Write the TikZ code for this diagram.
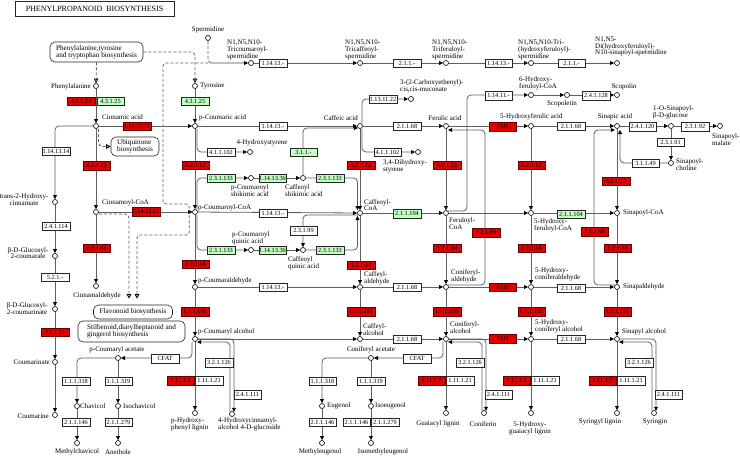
\documentclass[tikz,border=0pt]{standalone}
\usepackage{fontspec}
\setmainfont{Liberation Serif}
\usetikzlibrary{arrows.meta,calc,backgrounds}
\definecolor{kred}{RGB}{225,0,0}
\definecolor{kgrn}{RGB}{191,255,191}
\definecolor{kline}{RGB}{95,95,95}
\begin{document}
\begin{tikzpicture}[x=1pt,y=-1pt,
 cpd/.style={circle,draw=black,fill=white,line width=0.6pt,inner sep=0pt,minimum size=5pt},
 ez/.style={draw=black!85,fill=white,line width=0.5pt,minimum width=27.5pt,minimum height=8.5pt,inner sep=0pt,font=\fontsize{6.3}{6.3}\selectfont},
 ezr/.style={ez,fill=kred,draw=black!60!red},
 ezg/.style={ez,fill=kgrn},
 lb/.style={inner sep=0pt,font=\fontsize{7}{6.8}\selectfont,align=left},
 lbc/.style={lb,align=center},
 mapbox/.style={draw=black!85,rounded corners=5pt,fill=white,line width=0.6pt,inner sep=1.5pt,font=\fontsize{7.2}{7.2}\selectfont,align=left},
 ln/.style={draw=kline,line width=0.8pt},
 ar/.style={ln,-{Triangle[length=4.2pt,width=3.8pt,color=black]}},
 dl/.style={ln,dash pattern=on 3pt off 2pt},
 dar/.style={dl,-{Triangle[open,length=4.5pt,width=4.5pt,color=black,fill=white]}},
 dfar/.style={dl,-{Triangle[length=4.2pt,width=3.8pt,color=black]}},
 rc/.style={rounded corners=4pt}]
\useasboundingbox (0,0) rectangle (740,456);

% ---------- compounds ----------
\node[cpd] (phe) at (96,86) {};
\node[cpd] (cin) at (96,126) {};
\node[cpd] (cinCoA) at (96,212) {};
\node[cpd] (cinald) at (96,286) {};
\node[cpd] (tho) at (55,202) {};
\node[cpd] (gca) at (55,256) {};
\node[cpd] (gcn) at (55,309) {};
\node[cpd] (cmt) at (55,362) {};
\node[cpd] (cmr) at (55,415) {};
\node[cpd] (tyr) at (195,86) {};
\node[cpd] (pca) at (195,126) {};
\node[cpd] (hst) at (250,152) {};
\node[cpd] (pcoa) at (195,212) {};
\node[cpd] (pcs) at (251,178) {};
\node[cpd] (cfs) at (303,178) {};
\node[cpd] (pcq) at (251,250) {};
\node[cpd] (cfq) at (303,250) {};
\node[cpd] (pcald) at (195,287) {};
\node[cpd] (pcalc) at (195,339) {};
\node[cpd] (pcac) at (118,358) {};
\node[cpd] (chv) at (77,406) {};
\node[cpd] (mchv) at (77,443) {};
\node[cpd] (ichv) at (118,406) {};
\node[cpd] (anet) at (118,443) {};
\node[cpd] (phl) at (195,413) {};
\node[cpd] (hcg) at (232,414) {};
\node[cpd] (caf) at (360,126) {};
\node[cpd] (ccm) at (411,99) {};
\node[cpd] (dhs) at (418,152) {};
\node[cpd] (cafCoA) at (360,213) {};
\node[cpd] (cafald) at (360,287) {};
\node[cpd] (cafalc) at (360,339) {};
\node[cpd] (cfac) at (371,358) {};
\node[cpd] (eug) at (322,406) {};
\node[cpd] (meug) at (322,443) {};
\node[cpd] (ieug) at (371,406) {};
\node[cpd] (imeug) at (371,443) {};
\node[cpd] (fer) at (446,126) {};
\node[cpd] (ferCoA) at (446,213) {};
\node[cpd] (conald) at (446,287) {};
\node[cpd] (conalc) at (446,339) {};
\node[cpd] (gl) at (446,413) {};
\node[cpd] (conf) at (484,413) {};
\node[cpd] (hfc6) at (531,95) {};
\node[cpd] (scpt) at (567,95) {};
\node[cpd] (scpn) at (617,95) {};
\node[cpd] (hfer) at (531,126) {};
\node[cpd] (hferCoA) at (531,213) {};
\node[cpd] (hconald) at (531,287) {};
\node[cpd] (hconalc) at (531,339) {};
\node[cpd] (hgl) at (531,413) {};
\node[cpd] (sin) at (617,126) {};
\node[cpd] (sgl) at (671,126) {};
\node[cpd] (smal) at (720,126) {};
\node[cpd] (schol) at (671,163) {};
\node[cpd] (sinCoA) at (617,213) {};
\node[cpd] (sinald) at (617,287) {};
\node[cpd] (sinalc) at (617,339) {};
\node[cpd] (sl) at (617,413) {};
\node[cpd] (syr) at (654,413) {};
\node[cpd] (spd) at (208,38) {};
\node[cpd] (tcs) at (251,63) {};
\node[cpd] (tcfs) at (360,63) {};
\node[cpd] (tfs) at (446,63) {};
\node[cpd] (thfs) at (531,63) {};
\node[cpd] (dhsp) at (617,63) {};

% ---------- title and maps ----------
\node[draw=black!85,line width=0.6pt,minimum width=159pt,minimum height=15pt,inner sep=0pt,font=\fontsize{8}{8}\selectfont] (title) at (94.5,8.5) {PHENYLPROPANOID\ \ BIOSYNTHESIS};
\node[mapbox,minimum width=93pt,minimum height=20pt] (pttb) at (96.5,52) {Phenylalanine,tyrosine\\and tryptophan biosynthesis};
\node[mapbox,minimum width=48pt,minimum height=19pt] (ubq) at (135,146.5) {Ubiquinone\\biosynthesis};
\node[mapbox,minimum width=79pt,minimum height=14pt] (flav) at (133,312) {Flavonoid biosynthesis};
\node[mapbox,minimum width=107pt,minimum height=21pt] (stil) at (131.5,331.5) {Stilbenoid,diarylheptanoid and\\gingerol biosynthesis};

% ---------- labels ----------
\node[lb,anchor=east] (Lphe) at (91,87) {Phenylalanine};
\node[lb,anchor=west] (Lcin) at (102,117.5) {Cinnamic acid};
\node[lb,anchor=west] (LcinCoA) at (102,203) {Cinnamoyl-CoA};
\node[lb] (Lcinald) at (97,296) {Cinnamaldehyde};
\node[lbc] (Ltho) at (24,200) {trans-2-Hydroxy-\\cinnamate};
\node[lbc] (Lgca) at (28,253) {β-D-Glucosyl-\\2-coumarate};
\node[lbc] (Lgcn) at (27,308.5) {β-D-Glucosyl-\\2-coumarinate};
\node[lb,anchor=east] (Lcmt) at (50,362) {Coumarinate};
\node[lb,anchor=east] (Lcmr) at (49,416) {Coumarine};
\node[lb,anchor=west] (Ltyr) at (200,86) {Tyrosine};
\node[lb,anchor=west] (Lpca) at (199,118) {p-Coumaric acid};
\node[lb] (Lhst) at (262,143) {4-Hydroxystyrene};
\node[lb,anchor=west] (Lpcs) at (231,190.5) {p-Coumaroyl\\shikimic acid};
\node[lb,anchor=west] (Lcfs) at (285,190.5) {Caffeoyl\\shikimic acid};
\node[lb,anchor=west] (Lpcoa) at (198,207.5) {p-Coumaroyl-CoA};
\node[lb,anchor=west] (Lpcq) at (232,238) {p-Coumaroyl\\quinic acid};
\node[lb,anchor=west] (Lcfq) at (288,263.5) {Caffeoyl\\quinic acid};
\node[lb,anchor=west] (Lpcald) at (198,281) {p-Coumaraldehyde};
\node[lb,anchor=west] (Lpcalc) at (198,332) {p-Coumaryl alcohol};
\node[lb] (Lpcac) at (117,350) {p-Coumaryl acetate};
\node[lb,anchor=west] (Lchv) at (80,406) {Chavicol};
\node[lb,anchor=west] (Lichv) at (123,406) {Isochavicol};
\node[lb] (Lmchv) at (77,452) {Methylchavicol};
\node[lb] (Lanet) at (118,452) {Anethole};
\node[lb,anchor=west] (Lphl) at (171,424.5) {p-Hydroxy-\\phenyl lignin};
\node[lb,anchor=west] (Lhcg) at (218,424.5) {4-Hydroxycinnamyl-\\alcohol 4-D-glucoside};
\node[lb,anchor=east] (Lcaf) at (358,118) {Caffeic acid};
\node[lb,anchor=west] (Lccm) at (400,86) {3-(2-Carboxyethenyl)-\\cis,cis-muconate};
\node[lb,anchor=west] (Ldhs) at (383,166) {3,4-Dihydroxy-\\styrene};
\node[lb,anchor=west] (LcafCoA) at (364,205) {Caffeoyl-\\CoA};
\node[lb,anchor=west] (Lcafald) at (364,278) {Caffeyl-\\aldehyde};
\node[lb,anchor=west] (Lcafalc) at (363,329.5) {Caffeyl-\\alcohol};
\node[lb] (Lcfac) at (371,350) {Coniferyl acetate};
\node[lb,anchor=west] (Leug) at (327,406) {Eugenol};
\node[lb,anchor=west] (Lieug) at (375,406) {Isoeugenol};
\node[lb] (Lmeug) at (320,452) {Methyleugenol};
\node[lb] (Limeug) at (383,452) {Isomethyleugenol};
\node[lb] (Lfer) at (445,118) {Ferulic acid};
\node[lb,anchor=west] (LferCoA) at (449,223.5) {Feruloyl-\\CoA};
\node[lb,anchor=west] (Lconald) at (451,276.5) {Coniferyl-\\aldehyde};
\node[lb,anchor=west] (Lconalc) at (450,327.5) {Coniferyl-\\alcohol};
\node[lb] (Lgl) at (438,424) {Guaiacyl lignin};
\node[lb] (Lconf) at (483,424) {Coniferin};
\node[lb,anchor=west] (Lhfc6) at (519,83) {6-Hydroxy-\\feruloyl-CoA};
\node[lb] (Lscpt) at (562,104) {Scopoletin};
\node[lb] (Lscpn) at (624,87) {Scopolin};
\node[lb,anchor=west] (Lhfer) at (500,116.5) {5-Hydroxyferulic acid};
\node[lb,anchor=west] (LhferCoA) at (534,225.5) {5-Hydroxy-\\feruloyl-CoA};
\node[lb,anchor=west] (Lhconald) at (535,274.5) {5-Hydroxy-\\coniferaldehyde};
\node[lb,anchor=west] (Lhconalc) at (535,326.5) {5-Hydroxy-\\coniferyl alcohol};
\node[lbc] (Lhgl) at (530,428.5) {5-Hydroxy-\\guaiacyl lignin};
\node[lb] (Lsin) at (615,117) {Sinapic acid};
\node[lb,anchor=west] (Lsgl) at (653,112.5) {1-O-Sinapoyl-\\β-D-glucose};
\node[lb,anchor=west] (Lsmal) at (712,140) {Sinapoyl-\\malate};
\node[lb,anchor=west] (Lschol) at (676,164.5) {Sinapoyl-\\choline};
\node[lb,anchor=west] (LsinCoA) at (623,213) {Sinapoyl-CoA};
\node[lb,anchor=west] (Lsinald) at (623,287) {Sinapaldehyde};
\node[lb,anchor=west] (Lsinalc) at (622,332) {Sinapyl alcohol};
\node[lb] (Lsl) at (600,422) {Syringyl lignin};
\node[lb] (Lsyr) at (655,422) {Syringin};
\node[lb] (Lspd) at (208,30) {Spermidine};
\node[lb,anchor=west] (Ltcs) at (227,50) {N1,N5,N10-\\Tricoumaroyl-\\spermidine};
\node[lb,anchor=west] (Ltcfs) at (345,50) {N1,N5,N10-\\Tricaffeoyl-\\spermidine};
\node[lb,anchor=west] (Ltfs) at (432,50) {N1,N5,N10-\\Triferuloyl-\\spermidine};
\node[lb,anchor=west] (Lthfs) at (518,50) {N1,N5,N10-Tri-\\(hydroxyferuloyl)-\\spermidine};
\node[lb,anchor=west] (Ldhsp) at (595,46.5) {N1,N5-\\Di(hydroxyferuloyl)-\\N10-sinapoyl-spermidine};

% ---------- connectors (under everything) ----------
\begin{scope}[on background layer]
\fill[white] (0,0) rectangle (740,456);
% dashed map links
\draw[dar] (pttb.south) -- (phe);
\draw[dar,rc] (pttb.east) -| (tyr);
\draw[dar,rc] ($(cin.south)+(2.5,0)$) |- (ubq.west);
\draw[dl,rc] (spd) |- (tcs);
\draw[dfar,rounded corners=3pt] (pcoa.west) -- ++(-3,0) |- (163,204) |- (tcs);
\draw[dar,rounded corners=3pt] (pcoa.west) -- ++(-3,0) |- (137,235) -- ($(flav.north)+(4,-6)$);
\draw[dar,rc] ($(cinCoA.east)+(0,2)$) -| ($(flav.north)+(-4,-6)$);
% spermidine row
\draw[ar] (tcs) -- (tcfs);
\draw[ar] (tcfs) -- (tfs);
\draw[ar] (tfs) -- (thfs);
\draw[ar] (thfs) -- (dhsp);
% column A and coumarins
\draw[ar] (phe) -- (cin);
\draw[ar] (cin) -- (pca);
\draw[ar,rc] (cin) -| (tho);
\draw[ar] (tho) -- (gca);
\draw[ar] (gca) -- (gcn);
\draw[ar] (gcn) -- (cmt);
\draw[ar] (cmt) -- (cmr);
\draw[ar] (cin) -- (cinCoA);
\draw[ar] (cinCoA) -- (pcoa);
\draw[ar] (cinCoA) -- (cinald);
% column B
\draw[ar] (tyr) -- (pca);
\draw[ar] (pca) -- (pcoa);
\draw[ar] (pca) -- (caf);
\draw[ar,rc] ($(pca.south)+(2,0)$) |- (hst);
\draw[ar,rc] ($(pcoa.north)+(2,0)$) |- (pcs);
\draw[ar] (pcs) -- (cfs);
\draw[ar,rc] (cfs) -| ($(cafCoA.north)+(-2.5,0)$);
\draw[ar,rc] ($(pcoa.south)+(2,0)$) |- (pcq);
\draw[ar] (pcq) -- (cfq);
\draw[ar,rc] (cfq) -| ($(cafCoA.south)+(-2.5,0)$);
\draw[ar,rc] (cafCoA.south west) -| (cfq);
\draw[ar] (pcoa) -- (cafCoA);
\draw[ar] (pcoa) -- (pcald);
\draw[ar] (pcald) -- (cafald);
\draw[ar] (pcald) -- (pcalc);
\draw[ar] (pcalc) -- (cafalc);
\draw[ar,rc] ($(pcalc.south)+(-3,0)$) |- (pcac);
\draw[ar,rc] (pcac) -| (chv);
\draw[ar] (pcac) -- (ichv);
\draw[ar] (chv) -- (mchv);
\draw[ar] (ichv) -- (anet);
\draw[ar] (pcalc) -- (phl);
\draw[ar,rc] (hcg.north west) |- ($(pcalc.south east)+(0,1)$);
\draw[ar,rc] (pcalc.east) -| (hcg.north east);
% column C
\draw[ar,rc] (cfs) |- (caf.south west);
\draw[ar,rc] ($(caf.north)+(2,0)$) |- (ccm);
\draw[ar,rc] ($(caf.south)+(2,0)$) |- (dhs);
\draw[ar] (caf) -- (cafCoA);
\draw[ar] (caf) -- (fer);
\draw[ar] (cafCoA) -- (ferCoA);
\draw[ar] (cafCoA) -- (cafald);
\draw[ar] (cafald) -- (conald);
\draw[ar] (cafald) -- (cafalc);
\draw[ar] (cafalc) -- (conalc);
\draw[ar,rc] ($(conalc.south)+(-3,0)$) |- (cfac);
\draw[ar,rc] (cfac) -| (eug);
\draw[ar] (cfac) -- (ieug);
\draw[ar] (eug) -- (meug);
\draw[ar] (ieug) -- (imeug);
% column D
\draw[ar] (fer) -- (hfer);
\draw[ar] (fer) -- (ferCoA);
\draw[ar] (ferCoA) -- (hferCoA);
\draw[ar] (ferCoA) -- (conald);
\draw[ar,rc] (ferCoA.north east) -| (467,95) -- (hfc6);
\draw[ar,rc] (conald.north east) -| ($(fer.south east)+(37,2)$) -- ($(fer.south east)+(0,2)$);
\draw[ar] (conald) -- (hconald);
\draw[ar] (conald) -- (conalc);
\draw[ar] (conalc) -- (hconalc);
\draw[ar] (conalc) -- (gl);
\draw[ar,rc] (conf.north west) |- ($(conalc.south east)+(0,1)$);
\draw[ar,rc] (conalc.east) -| (conf.north east);
\draw[ar] (hfc6) -- (scpt);
\draw[ar] (scpt) -- (scpn);
% column E
\draw[ar] (hfer) -- (sin);
\draw[ar] (hfer) -- (hferCoA);
\draw[ar] (hferCoA) -- (sinCoA);
\draw[ar] (hferCoA) -- (hconald);
\draw[ar] (hconald) -- (sinald);
\draw[ar] (hconald) -- (hconalc);
\draw[ar] (hconalc) -- (sinalc);
\draw[ar] (hconalc) -- (hgl);
% column F
\draw[ar] (sin) -- (sgl);
\draw[ar] (sgl) -- (smal);
\draw[ar] (sgl) -- (schol);
\draw[ar,rc] (schol) -| ($(sin.south)+(3,1)$);
\draw[ar] (sin) -- (sinCoA);
\draw[ar,rc] (sinald.north west) -| ($(sin.south west)+(-21,2)$) -- ($(sin.south west)+(0,2)$);
\draw[ar] (sinCoA) -- (sinald);
\draw[ar] (sinald) -- (sinalc);
\draw[ar] (sinalc) -- (sl);
\draw[ar,rc] (syr.north west) |- ($(sinalc.south east)+(0,1)$);
\draw[ar,rc] (sinalc.east) -| (syr.north east);
\end{scope}

% ---------- enzymes ----------
\node[ezr] (e1) at (81,101) {4.3.1.24};
\node[ezg] (e2) at (110.5,101) {4.3.1.25};
\node[ezr] (e3) at (137,126) {1.14.13.11};
\node[ez] (e4) at (56,151) {1.14.13.14};
\node[ezr] (e5) at (96.5,165.5) {6.2.1.12};
\node[ezr] (e6) at (146,211.5) {1.14.13.11};
\node[ezr] (e7) at (96.5,248) {1.2.1.44};
\node[ez] (e8) at (56,226) {2.4.1.114};
\node[ez] (e9) at (55,277) {5.2.1.-};
\node[ezr] (e10) at (55,332) {3.2.1.21};
\node[ezg] (e11) at (195,101) {4.3.1.25};
\node[ez] (e12) at (273,126) {1.14.13.-};
\node[ez] (e13) at (221,152) {4.1.1.102};
\node[ezr] (e14) at (195.5,165) {6.2.1.12};
\node[ezg] (e15) at (221,178) {2.3.1.133};
\node[ezg] (e16) at (272.5,178) {1.14.13.36};
\node[ezg] (e17) at (330,178) {2.3.1.133};
\node[ez] (e18) at (273,213) {1.14.13.-};
\node[ez] (e19) at (303.5,230.5) {2.3.1.99};
\node[ezg] (e20) at (221,250) {2.3.1.133};
\node[ezg] (e21) at (272.5,250) {1.14.13.36};
\node[ezg] (e22) at (330,250) {2.3.1.133};
\node[ezr] (e23) at (195.5,264) {1.2.1.44};
\node[ez] (e24) at (273,287) {1.14.13.-};
\node[ezr] (e25) at (195,311.5) {1.1.1.195};
\node[ez] (e26) at (165,358.5) {CFAT};
\node[ez] (e27) at (76,381) {1.1.1.318};
\node[ez] (e28) at (118.5,381) {1.1.1.319};
\node[ez] (e29) at (76,422) {2.1.1.146};
\node[ez] (e30) at (118.5,422) {2.1.1.279};
\node[ezr] (e31) at (180.5,380.5) {1.11.1.7};
\node[ez] (e32) at (209,380.5) {1.11.1.21};
\node[ez] (e33) at (219,362.5) {3.2.1.126};
\node[ez] (e34) at (247.5,394.5) {2.4.1.111};
\node[ezg] (e35) at (303.5,152) {3.1.1.-};
\node[ez] (e36) at (383,99) {1.13.11.22};
\node[ez] (e37) at (387.5,152) {4.1.1.102};
\node[ezr] (e38) at (361,165) {6.2.1.12};
\node[ezr] (e39) at (361,265) {1.2.1.44};
\node[ezr] (e40) at (361,311.5) {1.1.1.195};
\node[ez] (e41) at (407,126) {2.1.1.68};
\node[ezg] (e42) at (407,213.5) {2.1.1.104};
\node[ez] (e43) at (407,287) {2.1.1.68};
\node[ez] (e44) at (407,339) {2.1.1.68};
\node[ez] (e45) at (417,358.5) {CFAT};
\node[ez] (e46) at (322.5,381) {1.1.1.318};
\node[ez] (e47) at (371,381) {1.1.1.319};
\node[ez] (e48) at (322.5,422) {2.1.1.146};
\node[ez] (e49) at (356.5,422) {2.1.1.146};
\node[ez] (e50) at (385,422) {2.1.1.279};
\node[ezr] (e51) at (502.5,126.5) {F5H};
\node[ezr] (e52) at (447,165) {6.2.1.12};
\node[ezr] (e53) at (486,232.5) {1.2.1.68};
\node[ez] (e54) at (498.5,95.5) {1.14.11.-};
\node[ezr] (e55) at (447,248) {1.2.1.44};
\node[ezr] (e56) at (502.5,287) {F5H};
\node[ezr] (e57) at (447,311.5) {1.1.1.195};
\node[ezr] (e58) at (502.5,338.5) {F5H};
\node[ezr] (e59) at (431.5,380.5) {1.11.1.7};
\node[ez] (e60) at (460,380.5) {1.11.1.21};
\node[ez] (e61) at (470,362.5) {3.2.1.126};
\node[ez] (e62) at (498.5,394.5) {2.4.1.111};
\node[ezr] (e63) at (531.5,165) {6.2.1.12};
\node[ezr] (e64) at (531.5,248) {1.2.1.44};
\node[ezr] (e65) at (531.5,311.5) {1.1.1.195};
\node[ez] (e66) at (571,126) {2.1.1.68};
\node[ezg] (e67) at (571,214) {2.1.1.104};
\node[ez] (e68) at (571,288) {2.1.1.68};
\node[ez] (e69) at (571,339) {2.1.1.68};
\node[ezr] (e70) at (516.5,380.5) {1.11.1.7};
\node[ez] (e71) at (545,380.5) {1.11.1.21};
\node[ez] (e72) at (596,95.5) {2.4.1.128};
\node[ezr] (e73) at (616,181) {6.2.1.12};
\node[ezr] (e74) at (594.5,231.5) {1.2.1.68};
\node[ezr] (e75) at (617.5,248) {1.2.1.44};
\node[ezr] (e76) at (617.5,311.5) {1.1.1.195};
\node[ez] (e77) at (642.5,126.5) {2.4.1.120};
\node[ez] (e78) at (695,126.5) {2.3.1.92};
\node[ez] (e79) at (670.5,142) {2.3.1.91};
\node[ez] (e80) at (645.5,163) {3.1.1.49};
\node[ezr] (e81) at (602.5,380.5) {1.11.1.7};
\node[ez] (e82) at (631,380.5) {1.11.1.21};
\node[ez] (e83) at (639,362.5) {3.2.1.126};
\node[ez] (e84) at (668.5,394.5) {2.4.1.111};
\node[ez] (e85) at (273,63) {1.14.13.-};
\node[ez] (e86) at (407,63) {2.1.1.-};
\node[ez] (e87) at (498.5,63) {1.14.13.-};
\node[ez] (e88) at (571.5,63) {2.1.1.-};
\end{tikzpicture}
\end{document}
